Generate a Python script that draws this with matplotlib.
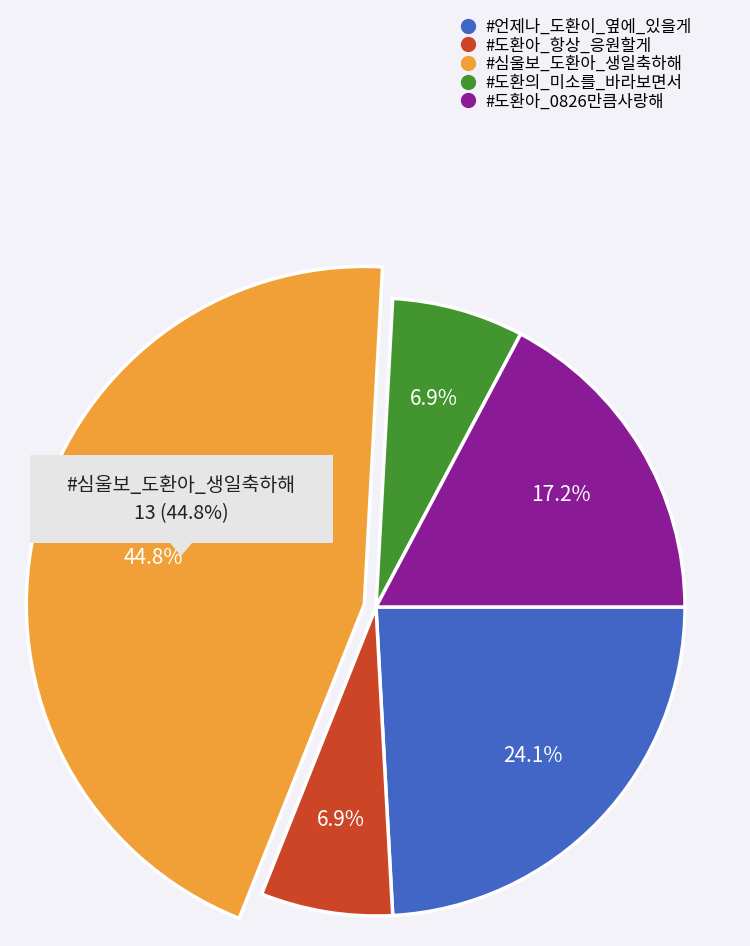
import matplotlib
matplotlib.use("Agg")
import matplotlib.pyplot as plt
from matplotlib.patches import Polygon, Rectangle
from matplotlib.lines import Line2D

plt.rcParams['font.family'] = ['Noto Sans CJK KR', 'DejaVu Sans']

labels = ["#언제나_도환이_옆에_있을게", "#도환아_항상_응원할게", "#심울보_도환아_생일축하해",
          "#도환의_미소를_바라보면서", "#도환아_0826만큼사랑해"]
values = [7, 2, 13, 2, 5]
colors = ["#4166c6", "#cc4526", "#f19f37", "#43962f", "#8b1a97"]
explode = [0, 0, 12, 0, 0]

fig = plt.figure(figsize=(7.5, 9.46), dpi=100)
fig.patch.set_facecolor("#f3f2f8")
ax = fig.add_axes([0, 0, 1, 1])

wedges, texts, autotexts = ax.pie(values, colors=colors, explode=explode, startangle=0, counterclock=False,
       center=(376, 339), radius=309, autopct='%1.1f%%', pctdistance=0.7,
       wedgeprops=dict(edgecolor='white', linewidth=2.5),
       textprops=dict(color='white', fontsize=15), frame=True)
wedges[2].set_radius(338)
ax.set_xlim(0, 750); ax.set_ylim(0, 946); ax.axis('off')

# tooltip
ax.add_patch(Rectangle((30, 946-543), 303, 88, facecolor="#e6e6e6", edgecolor='none', zorder=5))
ax.add_patch(Polygon([(170, 946-543), (192, 946-543), (181, 946-556)], closed=True,
                     facecolor="#e6e6e6", edgecolor='none', zorder=5))
total = sum(values)
ax.text(181, 946-485, labels[2], ha='center', va='center', fontsize=14, color='#222222', zorder=6)
ax.text(181, 946-514, f"{values[2]} ({values[2]/total*100:.1f}%)", ha='center', va='center',
        fontsize=14, color='#222222', zorder=6)

handles = [Line2D([], [], marker='o', linestyle='none', markersize=10, color=c) for c in colors]
leg = fig.legend(handles, labels, loc='upper left', bbox_to_anchor=(445/750, 1-12/946),
                 frameon=False, fontsize=12, handletextpad=0.0, labelspacing=0.1, borderaxespad=0)
fig.savefig("out.png", dpi=100, facecolor=fig.get_facecolor())
